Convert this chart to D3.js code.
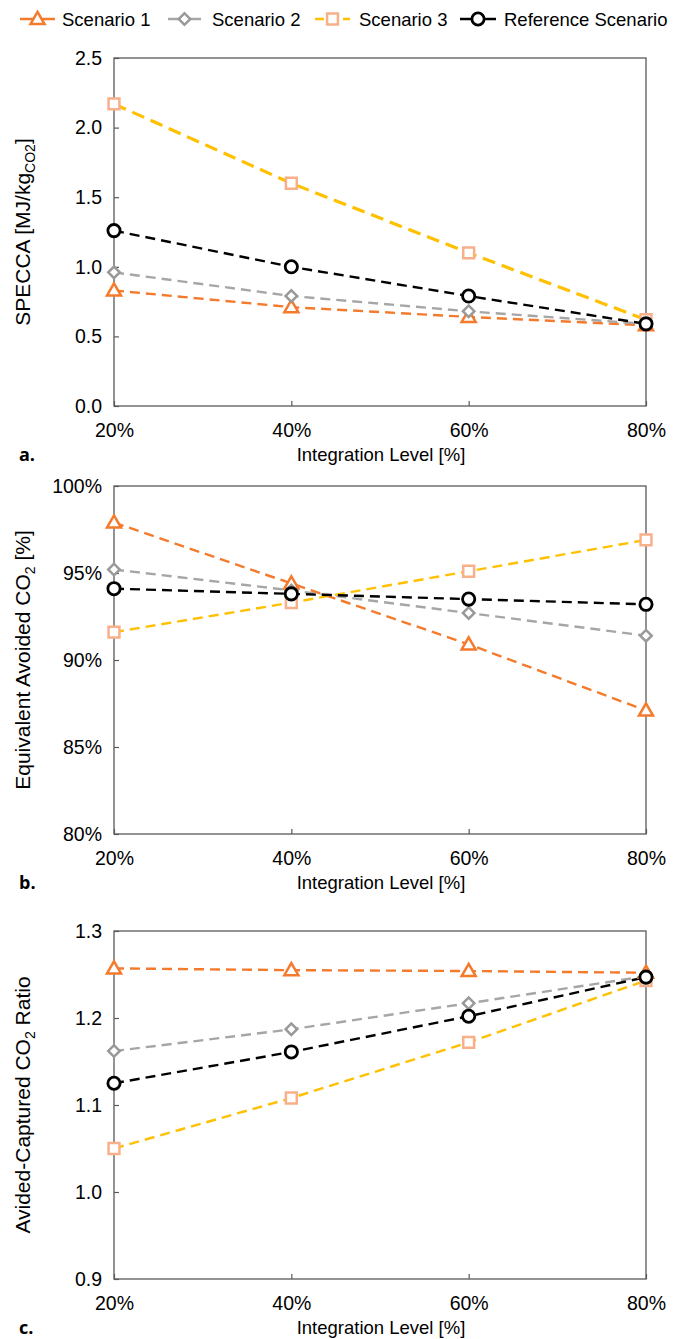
<!DOCTYPE html>
<meta charset="utf-8">
<script src="https://d3js.org/d3.v7.min.js"></script>
<style>
  body { margin: 0; background: #fff; }
  text { font-family: "Liberation Sans", Arial, sans-serif; fill: #000; }
  .tick text { font-size: 19.5px; font-family: "Liberation Sans", Arial, sans-serif; }
  .tick line { stroke: #595959; stroke-width: 1.2px; }
  .frame { fill: none; stroke: #595959; stroke-width: 1.3px; }
</style>
<body>
<div id="chart"></div>
<script>
  var width = 686,
      height = 1339;

  // x categories
  var levels = [20, 40, 60, 80];
  var levelLabels = ["20%", "40%", "60%", "80%"];

  var seriesNames = ["Scenario 1", "Scenario 2", "Scenario 3", "Reference Scenario"];

  // a. SPECCA [MJ/kgCO2]
  var speccaS1 = [0.83, 0.71, 0.64, 0.58];
  var speccaS2 = [0.96, 0.79, 0.68, 0.59];
  var speccaS3 = [2.17, 1.60, 1.10, 0.62];
  var speccaRef = [1.26, 1.00, 0.79, 0.59];
  var speccaTicks = [0, 0.5, 1.0, 1.5, 2.0, 2.5];

  // b. Equivalent avoided CO2 [%]
  var avoidedS1 = [97.9, 94.4, 90.9, 87.1];
  var avoidedS2 = [95.2, 94.0, 92.7, 91.4];
  var avoidedS3 = [91.6, 93.3, 95.1, 96.9];
  var avoidedRef = [94.1, 93.8, 93.5, 93.2];
  var avoidedTicks = [80, 85, 90, 95, 100];

  // c. Avoided-captured CO2 ratio
  var ratioS1 = [1.257, 1.255, 1.254, 1.252];
  var ratioS2 = [1.162, 1.187, 1.217, 1.248];
  var ratioS3 = [1.050, 1.108, 1.172, 1.243];
  var ratioRef = [1.125, 1.161, 1.202, 1.247];
  var ratioTicks = [0.9, 1.0, 1.1, 1.2, 1.3];

  var styles = [
    { line: "#F47A2C", mark: "#F47A2C", symbol: "triangle" },
    { line: "#A6A6A6", mark: "#999999", symbol: "diamond" },
    { line: "#FFC000", mark: "#F8B08A", symbol: "square" },
    { line: "#000000", mark: "#000000", symbol: "circle" }
  ];

  var panels = [
    { id: "a.", top: 58, values: [speccaS1, speccaS2, speccaS3, speccaRef], ticks: speccaTicks,
      fmt: d3.format(".1f"), yTitle: [["SPECCA [MJ/kg", false], ["CO2", true], ["]", false]], thick: true },
    { id: "b.", top: 486, values: [avoidedS1, avoidedS2, avoidedS3, avoidedRef], ticks: avoidedTicks,
      fmt: function(d) { return d + "%"; }, yTitle: [["Equivalent Avoided CO", false], ["2", true], [" [%]", false]] },
    { id: "c.", top: 931, values: [ratioS1, ratioS2, ratioS3, ratioRef], ticks: ratioTicks,
      fmt: d3.format(".1f"), yTitle: [["Avided-Captured CO", false], ["2", true], [" Ratio", false]] }
  ];

  var left = 114, right = 646, plotH = 348;

  var svg = d3.select("#chart").append("svg")
      .attr("width", width)
      .attr("height", height);

  var x = d3.scaleLinear().domain([20, 80]).range([left, right]);

  function markerPath(symbol) {
    if (symbol == "triangle") return d3.symbol().type(d3.symbolTriangle).size(85)();
    if (symbol == "diamond") return d3.symbol().type(d3.symbolSquare).size(66)();
    if (symbol == "square") return d3.symbol().type(d3.symbolSquare).size(118)();
    return d3.symbol().type(d3.symbolCircle).size(118)();
  }

  function drawMarker(g, st, cx, cy) {
    g.append("path")
        .attr("d", markerPath(st.symbol))
        .attr("transform", "translate(" + cx + "," + (st.symbol == "triangle" ? cy + 1 : cy) + ")" +
              (st.symbol == "diamond" ? " rotate(45)" : ""))
        .attr("fill", "#fff")
        .attr("stroke", st.mark)
        .attr("stroke-width", st.symbol == "circle" ? 2.8 : 2.5);
  }

  panels.forEach(function(p) {
    var ext = d3.extent(p.ticks);
    var y = d3.scaleLinear().domain(ext).range([p.top + plotH, p.top]);
    var g = svg.append("g");

    g.append("rect").attr("class", "frame")
        .attr("x", left).attr("y", p.top)
        .attr("width", right - left).attr("height", plotH);

    g.append("g")
        .attr("transform", "translate(" + left + ",0)")
        .call(d3.axisLeft(y).tickValues(p.ticks).tickFormat(p.fmt).tickSize(-5).tickPadding(12))
        .call(function(a) { a.select(".domain").remove(); });

    g.append("g")
        .attr("transform", "translate(0," + (p.top + plotH) + ")")
        .call(d3.axisBottom(x).tickValues(levels).tickFormat(function(d, i) { return levelLabels[i]; })
              .tickSize(-5).tickPadding(17))
        .call(function(a) { a.select(".domain").remove(); });

    // x title and panel id
    g.append("text")
        .attr("x", (left + right) / 2 + 1)
        .attr("y", p.top + plotH + 55)
        .attr("text-anchor", "middle")
        .style("font-size", "18.5px")
        .text("Integration Level [%]");

    g.append("text")
        .attr("x", 19)
        .attr("y", p.top + plotH + 55)
        .style("font-size", "18px")
        .style("font-weight", "bold")
        .style("font-family", "'Open Sans', sans-serif")
        .text(p.id);

    // y title
    var yt = g.append("text")
        .attr("transform", "translate(30," + (p.top + plotH / 2) + ") rotate(-90)")
        .attr("text-anchor", "middle")
        .style("font-size", "21px");
    p.yTitle.forEach(function(part, i) {
      var ts = yt.append("tspan").text(part[0]);
      if (part[1]) ts.attr("dy", 5).style("font-size", "14px");
      else if (i > 0) ts.attr("dy", -5);
    });

    var line = d3.line()
        .x(function(d, i) { return x(levels[i]); })
        .y(function(d) { return y(d); });

    p.values.forEach(function(vals, s) {
      g.append("path")
          .attr("d", line(vals))
          .attr("fill", "none")
          .attr("stroke", styles[s].line)
          .attr("stroke-width", (p.thick && s == 2) ? 3.2 : 2.4)
          .attr("stroke-dasharray", (p.thick && s == 2) ? "13,7" : "10,6");
    });

    p.values.forEach(function(vals, s) {
      vals.forEach(function(v, i) {
        drawMarker(g, styles[s], x(levels[i]), y(v));
      });
    });
  });

  // legend
  var legendItems = [
    { x0: 20, x1: 55, tx: 62, dash: null },
    { x0: 168, x1: 201, tx: 212, dash: null },
    { x0: 315, x1: 350, tx: 359, dash: "9,5" },
    { x0: 460, x1: 496, tx: 504, dash: null }
  ];
  var legend = svg.append("g");
  legendItems.forEach(function(it, s) {
    legend.append("line")
        .attr("x1", it.x0).attr("x2", it.x1)
        .attr("y1", 19).attr("y2", 19)
        .attr("stroke", styles[s].line)
        .attr("stroke-width", 2.4)
        .attr("stroke-dasharray", it.dash);
    drawMarker(legend, styles[s], (it.x0 + it.x1) / 2, 19);
    legend.append("text")
        .attr("x", it.tx).attr("y", 26)
        .style("font-size", "18.5px")
        .text(seriesNames[s]);
  });
</script>
</body>
